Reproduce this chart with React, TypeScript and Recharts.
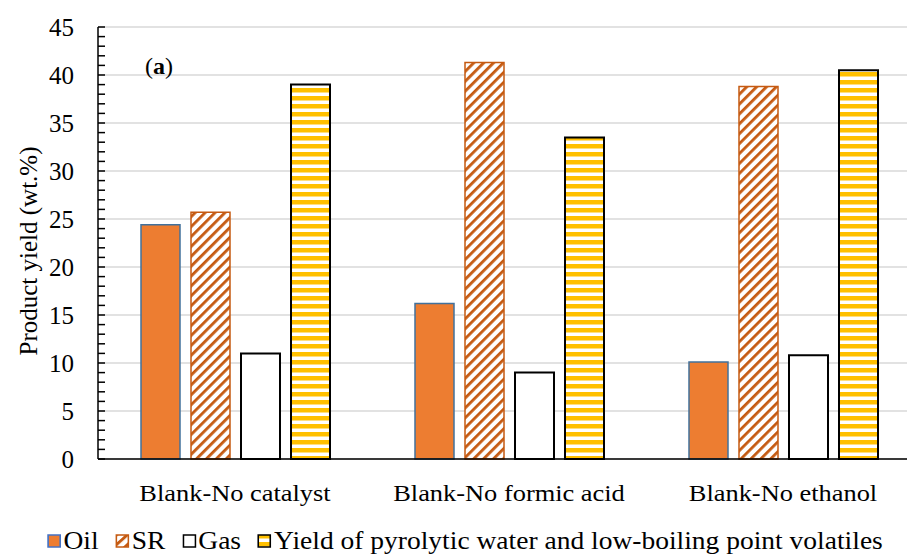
import { Bar, BarChart, CartesianGrid, Legend, XAxis, YAxis } from 'recharts';

const categories = ['Blank-No catalyst', 'Blank-No formic acid', 'Blank-No ethanol'];
const oil = [24.4, 16.2, 10.1];
const sr = [25.7, 41.3, 38.8];
const gas = [11.0, 9.0, 10.8];
const volatiles = [39.0, 33.5, 40.5];
const majorTicks = [0, 5, 10, 15, 20, 25, 30, 35, 40, 45];
const minorTicks = Array.from({ length: 46 }, (_, i) => i);

const data = categories.map((name, i) => ({
  name,
  oil: oil[i],
  sr: sr[i],
  gas: gas[i],
  volatiles: volatiles[i],
}));

const FONT = '"Liberation Serif", "Times New Roman", serif';
// text in this figure is set a little wide
const STRETCH = 1.1;

const legendItems = [
  { label: 'Oil', fill: '#ED7D31', stroke: '#4472C4' },
  { label: 'SR', fill: 'url(#srHatch)', stroke: '#C55A11' },
  { label: 'Gas', fill: '#FFFFFF', stroke: '#000000' },
  { label: 'Yield of pyrolytic water and low-boiling point volatiles', fill: 'url(#volStripes)', stroke: '#000000' },
];

function YTick({ x, y, payload }: any) {
  const axisX = x + 24;
  return (
    <g>
      <line x1={axisX} x2={axisX + 7} y1={y} y2={y} stroke="#000" strokeWidth={1.5} />
      {payload.value % 5 === 0 && (
        <text x={x} y={y} textAnchor="end" dominantBaseline="central" fontSize={25} fontFamily={FONT} fill="#000">
          {payload.value}
        </text>
      )}
    </g>
  );
}

function XTick({ x, y, payload }: any) {
  return (
    <text
      transform={`translate(${x},${y}) scale(${STRETCH},1)`}
      textAnchor="middle"
      dy="0.71em"
      fontSize={24}
      fontFamily={FONT}
      fill="#000"
    >
      {payload.value}
    </text>
  );
}

function YLabel({ viewBox }: any) {
  const cy = viewBox.y + viewBox.height / 2 + 8;
  return (
    <text
      transform={`translate(28,${cy}) rotate(-90)`}
      textAnchor="middle"
      dominantBaseline="central"
      fontSize={25}
      fontFamily={FONT}
      fill="#000"
    >
      Product yield (wt.%)
    </text>
  );
}

function LegendContent() {
  return (
    <div style={{ height: 30, position: 'relative', fontFamily: FONT, fontSize: 25, color: '#000' }}>
      <div
        style={{
          position: 'absolute',
          left: 47,
          top: 0,
          height: 30,
          display: 'flex',
          alignItems: 'center',
          whiteSpace: 'nowrap',
          transform: `scaleX(${STRETCH})`,
          transformOrigin: 'left center',
        }}
      >
        {legendItems.map((item) => (
          <div key={item.label} style={{ display: 'flex', alignItems: 'center', marginRight: 15 }}>
            <svg width={13} height={14} style={{ marginRight: 2 }}>
              <rect x={1} y={1} width={11} height={12} fill={item.fill} stroke={item.stroke} strokeWidth={1.5} />
            </svg>
            <span>{item.label}</span>
          </div>
        ))}
      </div>
    </div>
  );
}

export default function App() {
  return (
    <div style={{ position: 'absolute', left: 0, top: 0, width: 907, height: 556, overflow: 'hidden', background: '#fff' }}>
      <BarChart
        width={940}
        height={556}
        data={data}
        margin={{ top: 27, right: 20, bottom: 0, left: 0 }}
        barCategoryGap={43}
        barGap={11}
      >
        <defs>
          <pattern id="srHatch" patternUnits="userSpaceOnUse" width={7} height={7} patternTransform="rotate(45)">
            <rect width={7} height={7} fill="#fff" />
            <rect width={2.8} height={7} fill="#C55A11" />
          </pattern>
          <pattern id="volStripes" patternUnits="userSpaceOnUse" width={8} height={8}>
            <rect width={8} height={8} fill="#fff" />
            <rect width={8} height={4.5} fill="#FFC000" />
          </pattern>
        </defs>
        <CartesianGrid vertical={false} stroke="#D9D9D9" strokeWidth={1.5} horizontalValues={majorTicks} />
        <XAxis
          dataKey="name"
          height={67}
          tickLine={false}
          tickSize={0}
          tickMargin={25}
          axisLine={{ stroke: '#000', strokeWidth: 1.5 }}
          tick={<XTick />}
        />
        <YAxis
          width={98}
          domain={[0, 45]}
          ticks={minorTicks}
          interval={0}
          tickLine={false}
          tickSize={0}
          tickMargin={24}
          axisLine={{ stroke: '#000', strokeWidth: 1.5 }}
          tick={<YTick />}
          label={{ content: <YLabel /> }}
        />
        <Legend verticalAlign="bottom" height={30} content={<LegendContent />} />
        <Bar dataKey="oil" name="Oil" fill="#ED7D31" stroke="#41719C" strokeWidth={1.5} isAnimationActive={false} />
        <Bar dataKey="sr" name="SR" fill="url(#srHatch)" stroke="#C55A11" strokeWidth={1.5} isAnimationActive={false} />
        <Bar dataKey="gas" name="Gas" fill="#FFFFFF" stroke="#000" strokeWidth={2} isAnimationActive={false} />
        <Bar dataKey="volatiles" name="Yield of pyrolytic water and low-boiling point volatiles" fill="url(#volStripes)" stroke="#000" strokeWidth={2} isAnimationActive={false} />
        <text x={145} y={66} dominantBaseline="central" fontSize={24} fontFamily={FONT} fill="#000">
          (<tspan fontWeight="bold">a</tspan>)
        </text>
      </BarChart>
    </div>
  );
}
